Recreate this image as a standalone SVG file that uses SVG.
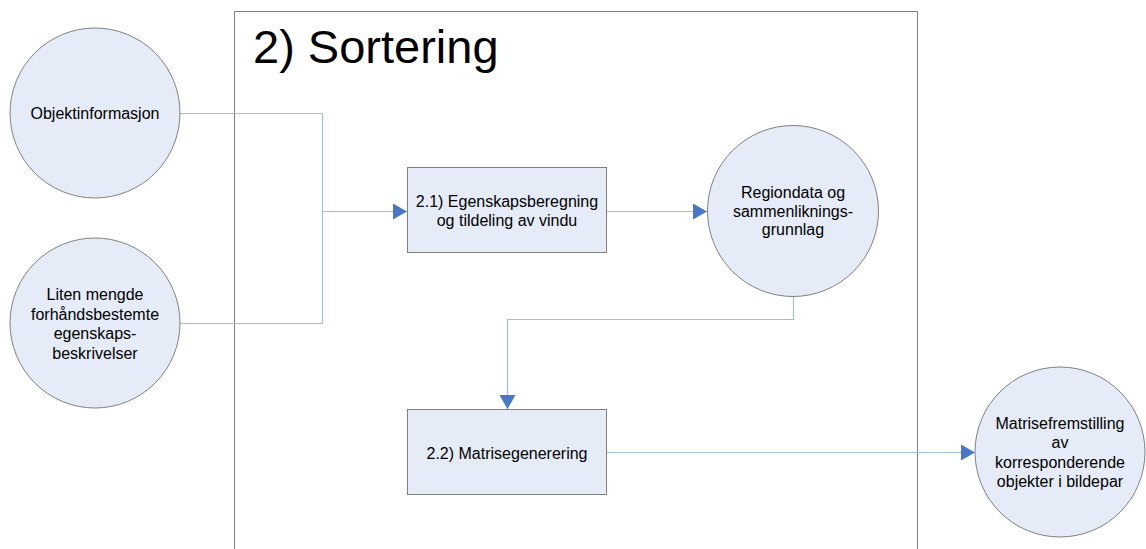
<svg xmlns="http://www.w3.org/2000/svg" width="1146" height="549" viewBox="0 0 1146 549">
  <defs>
    <style>
      .node { fill: #E6ECF7; stroke: #808080; stroke-width: 1; }
      .lbl { font-family: "Liberation Sans", Arial, sans-serif; font-size: 16px; fill: #000; text-anchor: middle; }
      .title { font-family: "Liberation Sans", Arial, sans-serif; font-size: 47px; fill: #000; }
      .frame { fill: none; stroke: #808080; stroke-width: 1; }
      .conn { fill: none; stroke: #A6BDE3; stroke-width: 1.2; marker-end: url(#arrow); }
      .conn-plain { fill: none; stroke: #A6BDE3; stroke-width: 1.2; }
    </style>
    <marker id="arrow" viewBox="0 0 14 16" refX="14" refY="8" markerWidth="14" markerHeight="16" markerUnits="userSpaceOnUse" orient="auto">
      <path d="M0,0 L14,8 L0,16 Z" fill="#4A76C6"/>
    </marker>
  </defs>

  <rect width="1146" height="549" fill="#FFFFFF"/>

  <!-- process boundary -->
  <g id="boundary">
    <path class="frame" d="M234.5,549 V11.5 H917.5 V549"/>
    <text class="title" x="253" y="63">2) Sortering</text>
  </g>

  <!-- connectors -->
  <g id="connectors">
    <path class="conn-plain" d="M180,113.5 H322.5 V323.5 H180"/>
    <path class="conn" d="M322.5,211.5 H407"/>
    <path class="conn" d="M606,211.5 H707"/>
    <path class="conn" d="M793.5,296 V319.5 H507.5 V409"/>
    <path class="conn" d="M606,452.5 H975"/>
  </g>

  <g id="objektinformasjon">
    <circle class="node" cx="95" cy="113" r="85"/>
    <text class="lbl" x="95" y="119">Objektinformasjon</text>
  </g>

  <g id="egenskapsbeskrivelser">
    <circle class="node" cx="95" cy="323" r="85"/>
    <text class="lbl" x="95" y="300">Liten mengde</text>
    <text class="lbl" x="95" y="319.5">forhåndsbestemte</text>
    <text class="lbl" x="95" y="339">egenskaps-</text>
    <text class="lbl" x="95" y="358.5">beskrivelser</text>
  </g>

  <g id="egenskapsberegning">
    <rect class="node" x="407.5" y="167.5" width="199" height="85"/>
    <text class="lbl" x="507" y="206.5">2.1) Egenskapsberegning</text>
    <text class="lbl" x="507" y="225.5">og tildeling av vindu</text>
  </g>

  <g id="regiondata">
    <circle class="node" cx="793" cy="211" r="85.5"/>
    <text class="lbl" x="793" y="197.5">Regiondata og</text>
    <text class="lbl" x="793" y="216.5">sammenliknings-</text>
    <text class="lbl" x="793" y="235">grunnlag</text>
  </g>

  <g id="matrisegenerering">
    <rect class="node" x="407.5" y="409.5" width="199" height="85"/>
    <text class="lbl" x="507" y="458.5">2.2) Matrisegenerering</text>
  </g>

  <g id="matrisefremstilling">
    <circle class="node" cx="1060" cy="452" r="85"/>
    <text class="lbl" x="1060" y="428.5">Matrisefremstilling</text>
    <text class="lbl" x="1060" y="448">av</text>
    <text class="lbl" x="1060" y="467.5">korresponderende</text>
    <text class="lbl" x="1060" y="487">objekter i bildepar</text>
  </g>
</svg>
